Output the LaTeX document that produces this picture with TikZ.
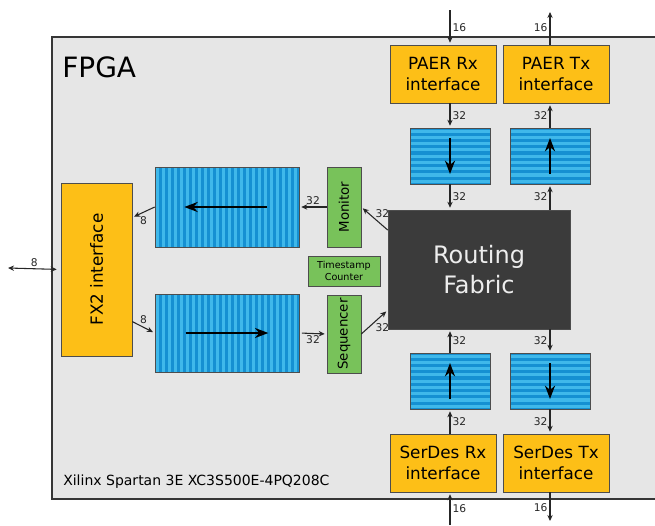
\documentclass[tikz,border=0pt]{standalone}
\usepackage{fontspec}
\setmainfont{DejaVu Sans}
\usetikzlibrary{arrows.meta,calc}
\definecolor{fpgabg}{HTML}{E6E6E6}
\definecolor{ifaceorange}{HTML}{FDBF17}
\definecolor{ctrlgreen}{HTML}{78C25A}
\definecolor{fifodark}{HTML}{1590D2}
\definecolor{fifolite}{HTML}{3FB8EA}
\definecolor{fabricgray}{HTML}{3B3B3B}
\definecolor{edgegray}{HTML}{4D4D4D}
\begin{document}
\begin{tikzpicture}[x=0.75pt,y=-0.75pt,
  iface/.style={draw=edgegray, fill=ifaceorange, minimum width=79.5pt, minimum height=43.5pt,
    inner sep=0pt, align=center, font=\fontsize{12.6}{15.75}\selectfont},
  ctrl/.style={draw=edgegray, fill=ctrlgreen, inner sep=0pt, align=center},
  vfifo/.style={draw=edgegray, fill=fifodark, minimum width=108pt, minimum height=60pt, inner sep=0pt,
    path picture={\foreach \k in {0,...,23}
      \fill[fifolite] ([xshift=\k*4.5pt+1.1pt]path picture bounding box.south west)
        rectangle ([xshift=\k*4.5pt+3.35pt]path picture bounding box.north west);}},
  hfifo/.style={draw=edgegray, fill=fifodark, minimum width=60pt, minimum height=42pt, inner sep=0pt,
    path picture={\foreach \k in {0,...,8}
      \fill[fifolite] ([yshift=-\k*4.7pt-1.2pt]path picture bounding box.north west)
        rectangle ([yshift=-\k*4.7pt-3.5pt]path picture bounding box.north east);}},
  sig/.style={-{Stealth[length=4.5pt,width=4pt]}, line width=0.8pt, black!85, shorten >=1.5pt},
  flow/.style={-{Stealth[length=10pt,width=7.5pt]}, line width=1.8pt, black},
  lbl/.style={font=\fontsize{8}{9}\selectfont, inner sep=1.5pt, black!85}]
\useasboundingbox (0,0) rectangle (655,525);

% FPGA outline, open to the right
\fill[fpgabg] (52,37) rectangle (655,499);
\draw[edgegray!70!black, line width=1pt] (655,37) -- (52,37) -- (52,499) -- (655,499);
\node[anchor=west, inner sep=0pt, font=\fontsize{21}{25}\selectfont] (title) at (62,67) {FPGA};
\node[anchor=west, inner sep=0pt, font=\fontsize{10.5}{12}\selectfont] (chip) at (63,482) {Xilinx Spartan 3E XC3S500E-4PQ208C};

% blocks
\node[iface] (prx) at (443,74) {PAER Rx\\interface};
\node[iface] (ptx) at (556,74) {PAER Tx\\interface};
\node[iface] (srx) at (443,463) {SerDes Rx\\interface};
\node[iface] (stx) at (556,463) {SerDes Tx\\interface};
\node[hfifo] (fprx) at (450,156) {};
\node[hfifo] (fptx) at (550,156) {};
\node[hfifo] (fsrx) at (450,381) {};
\node[hfifo] (fstx) at (550,381) {};
\node[draw=edgegray, fill=fabricgray, text=white!93!black, minimum width=136.5pt, minimum height=89.25pt,
  align=center, font=\fontsize{18}{22.5}\selectfont] (fab) at (479,269.5) {Routing\\Fabric};
\node[iface, minimum width=53.25pt, minimum height=129.75pt] (fx2) at (96.5,269.5) {\rotatebox{90}{FX2 interface}};
\node[vfifo] (fmon) at (227,207) {};
\node[vfifo, minimum height=58.5pt] (fseq) at (227,333) {};
\node[ctrl, minimum width=25.5pt, minimum height=60pt, font=\fontsize{10}{12}\selectfont] (mon) at (344,207) {\rotatebox{90}{Monitor}};
\node[ctrl, minimum width=25.5pt, minimum height=58.5pt, font=\fontsize{10}{12}\selectfont] (seq) at (344,334) {\rotatebox{90}{Sequencer}};
\node[ctrl, minimum width=54pt, minimum height=22.5pt, font=\fontsize{7.2}{9}\selectfont] (ts) at (344,271) {Timestamp\\Counter};

% data flow inside the fifos
\draw[flow] ([xshift=30pt]fmon.center) -- ([xshift=-32pt]fmon.center);
\draw[flow] ([xshift=-31pt]fseq.center) -- ([xshift=31pt]fseq.center);
\draw[flow] ([yshift=13.5pt]fprx.center) -- ([yshift=-13.5pt]fprx.center);
\draw[flow] ([yshift=-13.5pt]fptx.center) -- ([yshift=13.5pt]fptx.center);
\draw[flow] ([yshift=-13.5pt]fsrx.center) -- ([yshift=13.5pt]fsrx.center);
\draw[flow] ([yshift=13.5pt]fstx.center) -- ([yshift=-13.5pt]fstx.center);

% outside pins
\coordinate (prxin) at (450,10);
\coordinate (ptxout) at (550,10);
\coordinate (srxin) at (450,525);
\coordinate (stxout) at (550,523);
\coordinate (usb) at (8,268);

% PAER and SerDes links
\draw[sig] (prxin) -- (prx.north -| prxin) node[lbl,midway,right] {16};
\draw[sig] (prx.south -| fprx) -- (fprx.north) node[lbl,midway,right] {32};
\draw[sig] (fprx.south) -- (fprx.south |- fab.north) node[lbl,midway,right] {32};
\draw[sig] (fab.north -| fptx) -- (fptx.south) node[lbl,midway,left] {32};
\draw[sig] (fptx.north) -- (ptx.south -| fptx) node[lbl,midway,left] {32};
\draw[sig] (ptx.north -| ptxout) -- (ptxout) node[lbl,midway,left] {16};
\draw[sig] (srxin) -- (srx.south -| srxin) node[lbl,midway,right] {16};
\draw[sig] (srx.north -| fsrx) -- (fsrx.south) node[lbl,midway,right] {32};
\draw[sig] (fsrx.north) -- (fsrx.north |- fab.south) node[lbl,midway,right] {32};
\draw[sig] (fab.south -| fstx) -- (fstx.north) node[lbl,midway,left] {32};
\draw[sig] (fstx.south) -- (stx.north -| fstx) node[lbl,midway,left] {32};
\draw[sig] (stx.south -| stxout) -- (stxout) node[lbl,midway,left] {16};

% host side
\draw[sig] ($(fab.north west)!0.17!(fab.south west)$) -- (mon.east) node[lbl,midway,above right=-1pt] {32};
\draw[sig] (mon.west) -- (fmon.east) node[lbl,midway,above] {32};
\draw[sig] (fmon.west) -- ($(fx2.north east)!0.2!(fx2.south east)$) node[lbl,midway,below=1pt] {8};
\draw[sig] ($(fx2.north east)!0.8!(fx2.south east)$) -- (fseq.west) node[lbl,midway,above=1pt] {8};
\draw[sig, shorten <=2pt] (fseq.east) -- (seq.west) node[lbl,midway,below] {32};
\draw[sig] (seq.east) -- ($(fab.north west)!0.84!(fab.south west)$) node[lbl,midway,below right=-1pt] {32};
\draw[sig, {Stealth[length=4.5pt,width=4pt]}-{Stealth[length=4.5pt,width=4pt]}, shorten >=3pt] (usb) -- (fx2.west) node[lbl,midway,above] {8};
\end{tikzpicture}
\end{document}
